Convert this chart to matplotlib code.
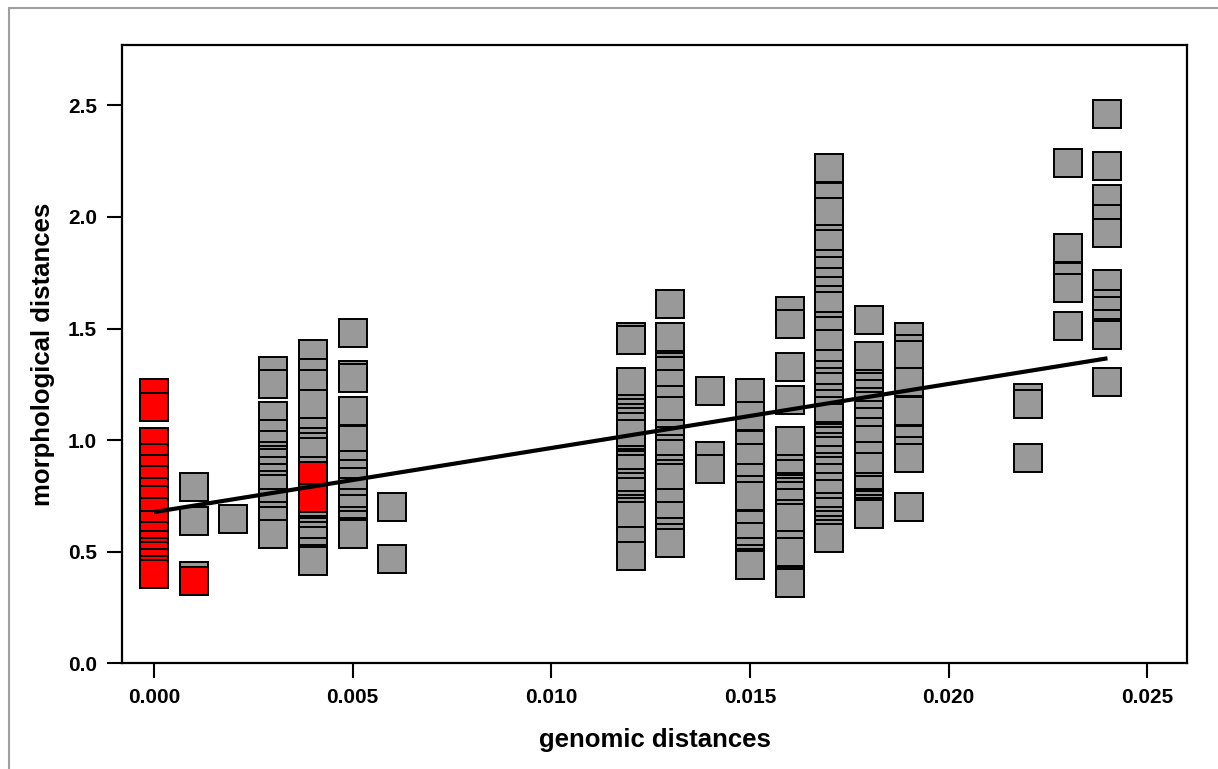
import numpy as np
import matplotlib.pyplot as plt
from matplotlib.patches import Rectangle

plt.rcParams['font.family'] = ['Liberation Sans', 'DejaVu Sans']
plt.rcParams['font.weight'] = 'bold'

# morphological distance values, one list per genomic distance column
col_000 = [1.21, 1.15, 0.99, 0.92, 0.87, 0.82, 0.77, 0.73, 0.68, 0.62, 0.57,
           0.53, 0.50, 0.48, 0.45, 0.42, 0.40]
col_001 = [0.79, 0.64, 0.39]
col_002 = [0.645]
col_003 = [1.31, 1.25, 1.11, 1.03, 0.98, 0.93, 0.91, 0.90, 0.86, 0.83, 0.80,
           0.78, 0.72, 0.66, 0.64, 0.58]
col_004 = [1.385, 1.30, 1.25, 1.16, 1.035, 0.99, 0.97, 0.945, 0.86, 0.62,
           0.60, 0.59, 0.57, 0.55, 0.50, 0.47, 0.46]
col_005 = [1.48, 1.29, 1.28, 1.13, 1.00, 0.89, 0.85, 0.815, 0.77, 0.72, 0.69,
           0.64, 0.62, 0.59, 0.58]
col_006 = [0.70, 0.466]
col_012 = [1.46, 1.45, 1.26, 1.14, 1.12, 1.10, 1.08, 1.06, 1.03, 0.91, 0.90,
           0.89, 0.87, 0.81, 0.79, 0.77, 0.71, 0.69, 0.68, 0.66, 0.55, 0.48]
col_013 = [1.61, 1.46, 1.33, 1.31, 1.25, 1.18, 1.13, 1.03, 0.995, 0.96, 0.94,
           0.87, 0.85, 0.83, 0.72, 0.66, 0.59, 0.56, 0.54]
col_014 = [1.22, 0.93, 0.87]
col_015 = [1.21, 1.11, 0.98, 0.92, 0.83, 0.775, 0.75, 0.62, 0.565, 0.50,
           0.47, 0.45, 0.44]
col_016 = [1.58, 1.52, 1.33, 1.18, 0.995, 0.87, 0.85, 0.79, 0.78, 0.77, 0.75,
           0.72, 0.67, 0.65, 0.53, 0.50, 0.37, 0.36]
col_017 = [2.22, 2.09, 2.02, 1.90, 1.88, 1.79, 1.76, 1.71, 1.67, 1.63, 1.60,
           1.51, 1.49, 1.43, 1.34, 1.29, 1.26, 1.24, 1.19, 1.16, 1.13, 1.10,
           1.02, 1.01, 0.995, 0.97, 0.95, 0.91, 0.88, 0.86, 0.83, 0.79, 0.76,
           0.70, 0.68, 0.64, 0.62, 0.60, 0.58, 0.56]
col_018 = [1.54, 1.375, 1.25, 1.24, 1.205, 1.17, 1.155, 1.115, 1.08, 1.035,
           1.00, 0.93, 0.88, 0.79, 0.775, 0.72, 0.71, 0.69, 0.68, 0.67]
col_019 = [1.46, 1.41, 1.38, 1.26, 1.13, 1.00, 0.95, 0.92, 0.70]
col_022 = [1.19, 1.16, 0.92]
col_023 = [2.24, 1.86, 1.73, 1.68, 1.51]
col_024 = [2.46, 2.23, 2.08, 1.99, 1.93, 1.70, 1.61, 1.58, 1.52, 1.48, 1.47,
           1.26]

gray_columns = [(0.001, col_001), (0.002, col_002), (0.003, col_003),
                (0.004, col_004), (0.005, col_005), (0.006, col_006),
                (0.012, col_012), (0.013, col_013), (0.014, col_014),
                (0.015, col_015), (0.016, col_016), (0.017, col_017),
                (0.018, col_018), (0.019, col_019), (0.022, col_022),
                (0.023, col_023), (0.024, col_024)]

# highlighted pairs (drawn in red on top)
red_x = [0.000] * len(col_000) + [0.001, 0.004, 0.004]
red_y = col_000 + [0.37, 0.84, 0.74]

# linear fit
fit_intercept = 0.678
fit_slope = 28.7
fit_range = [0.0, 0.024]

fig = plt.figure(figsize=(12.18, 7.69), dpi=100, facecolor='white')
ax = fig.add_axes([0.1002, 0.1372, 0.8743, 0.8043])

gray_x = np.concatenate([[x] * len(v) for x, v in gray_columns])
gray_y = np.concatenate([v for x, v in gray_columns])

marker_style = dict(marker='s', linestyle='none', markersize=19.5,
                    markeredgecolor='black', markeredgewidth=1.4)
ax.plot(gray_x, gray_y, markerfacecolor='#999999', **marker_style)
ax.plot(red_x, red_y, markerfacecolor='#ff0000', **marker_style)

fx = np.array(fit_range)
ax.plot(fx, fit_intercept + fit_slope * fx, color='black', linewidth=3,
        solid_capstyle='butt')

ax.set_xlim(-0.0008, 0.0260)
ax.set_ylim(0, 2.77)
ax.set_xticks(np.arange(0, 0.0251, 0.005))
ax.set_yticks(np.arange(0, 2.51, 0.5))
ax.xaxis.set_major_formatter(plt.FormatStrFormatter('%.3f'))
ax.yaxis.set_major_formatter(plt.FormatStrFormatter('%.1f'))
ax.tick_params(direction='out', length=11, width=1.5, labelsize=15, pad=7)
for s in ax.spines.values():
    s.set_linewidth(1.6)

ax.set_xlabel('genomic distances', fontsize=18.5, fontweight='bold',
              labelpad=15)
ax.set_ylabel('morphological distances', fontsize=18.5, fontweight='bold',
              labelpad=9)

# thin gray page frame
fig.patches.append(Rectangle((9 / 1218, -0.1), 1.2, 1.1 - 8 / 769,
                             transform=fig.transFigure, fill=False,
                             edgecolor='#a0a0a0', linewidth=1.5))

fig.savefig('out.png', dpi=100)
